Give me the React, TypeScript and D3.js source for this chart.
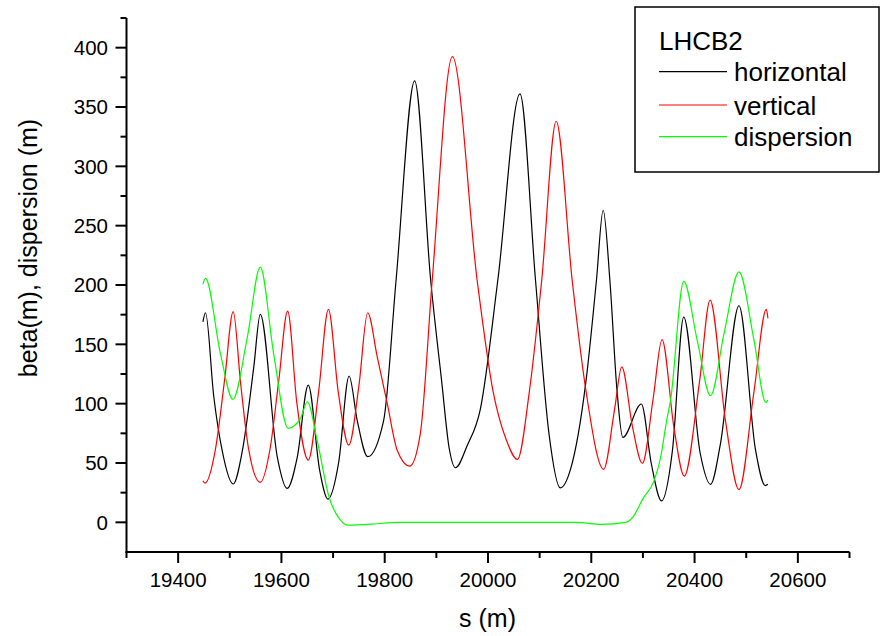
import React from "react";
import * as d3 from "d3";

// beta functions around LHCB2: [s (m), value (m)]
const horizontal: [number, number][] = [
  [19448, 169], [19453, 176.6], [19469, 106], [19485, 61], [19506.6, 32.3],
  [19524, 59.5], [19546.5, 131], [19559, 175.3], [19592, 55], [19611, 28.6],
  [19630.7, 55], [19652, 115.7], [19674, 44], [19690, 19.6], [19711, 51],
  [19731, 123.3], [19746.7, 86], [19767, 55.3], [19798, 86], [19822, 204],
  [19858, 372], [19889, 204], [19910, 120], [19925, 62], [19937, 46],
  [19960, 65], [19985, 95], [20019, 204], [20062, 361], [20092, 204],
  [20118, 75], [20140, 29], [20160, 45], [20190, 120], [20210, 204],
  [20223, 263], [20236, 204], [20250, 110], [20261, 71.6], [20297, 99.7],
  [20316, 50], [20336, 18], [20357, 60], [20379, 173], [20411, 58],
  [20431, 32], [20450, 66], [20486, 182.5], [20518, 61], [20537, 31], [20542, 32],
];

const vertical: [number, number][] = [
  [19448, 35], [19452, 33], [19472, 61], [19490, 120], [19506.6, 177.5],
  [19521, 117], [19536, 63], [19559, 33.7], [19578, 62], [19595, 120],
  [19612, 178], [19630, 100], [19652, 52.5], [19672, 110], [19691, 179.5],
  [19710, 110], [19730.5, 65], [19750, 115], [19767, 176.6], [19785.5, 139.5],
  [19805, 100], [19824, 61], [19848.6, 47.4], [19869, 75], [19892, 204],
  [19931, 392.4], [19979, 204], [20010, 110], [20035, 70], [20057, 53],
  [20080, 110], [20104, 204], [20132, 338], [20163, 204], [20190, 110],
  [20224, 44.7], [20245, 95], [20259, 131], [20280, 80], [20299, 49.7],
  [20320, 105], [20337, 154], [20360, 80], [20380, 39], [20410, 120],
  [20430, 187.3], [20460, 85], [20486, 27.5], [20515, 110], [20539, 179.5],
  [20542, 172],
];

const dispersion: [number, number][] = [
  [19448, 200.8], [19453, 205.6], [19482, 142], [19506, 103.6], [19534, 156],
  [19559, 215], [19585, 142], [19613, 79.2], [19637, 87.6], [19650, 101.6],
  [19669, 69.4], [19692, 21.6], [19714, 2], [19727, -2.3], [19779, -1.4],
  [19824, 0], [20170, 0], [20220, -1.7], [20266, 0], [20281, 4.7],
  [20300, 20], [20322, 35.6], [20334, 54], [20346, 86], [20353.5, 103],
  [20379, 203], [20405, 153.6], [20431, 106.7], [20457, 159], [20486, 211],
  [20515, 153.6], [20538, 101], [20542, 103],
];

const xTickValues = [19400, 19600, 19800, 20000, 20200, 20400, 20600];
const yTickValues = [0, 50, 100, 150, 200, 250, 300, 350, 400];

const legendTitle = "LHCB2";
const seriesNames = ["horizontal", "vertical", "dispersion"];
const seriesColors = ["#000000", "#ff0000", "#00ff00"];

const font = "Arial, 'Liberation Sans', sans-serif";

export default function App() {
  const width = 887;
  const height = 636;

  const x = d3.scaleLinear().domain([19300, 20700]).range([126.5, 849.5]);
  const y = d3.scaleLinear().domain([-25, 425]).range([552, 18]);

  const line = d3
    .line<[number, number]>()
    .x(d => x(d[0]))
    .y(d => y(d[1]))
    .curve(d3.curveMonotoneX);

  const series = [horizontal, vertical, dispersion];

  const xMinor = d3.range(19300, 20701, 200);
  const yMinor = d3.range(25, 426, 50);

  const x0 = x.range()[0];
  const y0 = y.range()[0];

  return (
    <div style={{ position: "absolute", left: 0, top: 0 }}>
      <svg width={width} height={height} style={{ display: "block", background: "#fff" }}>
        {series.map((d, i) => (
          <path
            key={seriesNames[i]}
            d={line(d) || ""}
            fill="none"
            stroke={seriesColors[i]}
            strokeWidth={1.2}
          />
        ))}

        {/* y axis */}
        <line x1={x0} x2={x0} y1={y.range()[1]} y2={y0 + 1} stroke="#000" strokeWidth={2} />
        {yTickValues.map(v => (
          <g key={"y" + v}>
            <line x1={x0 - 11} x2={x0} y1={y(v)} y2={y(v)} stroke="#000" strokeWidth={2} />
            <text
              x={108}
              y={y(v)}
              dy="0.36em"
              textAnchor="end"
              fontFamily={font}
              fontSize={20.5}
              fill="#000"
            >
              {v}
            </text>
          </g>
        ))}
        {yMinor.map(v => (
          <line key={"ym" + v} x1={x0 - 6} x2={x0} y1={y(v)} y2={y(v)} stroke="#000" strokeWidth={2} />
        ))}

        {/* x axis */}
        <line x1={x0 - 1} x2={x.range()[1]} y1={y0} y2={y0} stroke="#000" strokeWidth={2} />
        {xTickValues.map(v => (
          <g key={"x" + v}>
            <line x1={x(v)} x2={x(v)} y1={y0} y2={y0 + 11} stroke="#000" strokeWidth={2} />
            <text
              x={x(v)}
              y={586.5}
              textAnchor="middle"
              fontFamily={font}
              fontSize={20.5}
              fill="#000"
            >
              {v}
            </text>
          </g>
        ))}
        {xMinor.map(v => (
          <line key={"xm" + v} x1={x(v)} x2={x(v)} y1={y0} y2={y0 + 6} stroke="#000" strokeWidth={2} />
        ))}

        <text
          x={487.5}
          y={627}
          textAnchor="middle"
          fontFamily={font}
          fontSize={25}
          fill="#000"
        >
          s (m)
        </text>
        <text
          transform="translate(37,248) rotate(-90)"
          textAnchor="middle"
          fontFamily={font}
          fontSize={25}
          fill="#000"
        >
          beta(m), dispersion (m)
        </text>

        {/* legend */}
        <rect x={635} y={7} width={244} height={165} fill="#fff" stroke="#000" strokeWidth={1.5} />
        <text x={659} y={50} fontFamily={font} fontSize={26} fill="#000">
          {legendTitle}
        </text>
        {seriesNames.map((name, i) => {
          const ly = [71.7, 105, 136.7][i];
          return (
            <g key={"lg" + name}>
              <line x1={659} x2={727} y1={ly} y2={ly} stroke={seriesColors[i]} strokeWidth={1.2} />
              <text x={734} y={ly + 9.5} fontFamily={font} fontSize={26} fill="#000">
                {name}
              </text>
            </g>
          );
        })}
      </svg>
    </div>
  );
}
